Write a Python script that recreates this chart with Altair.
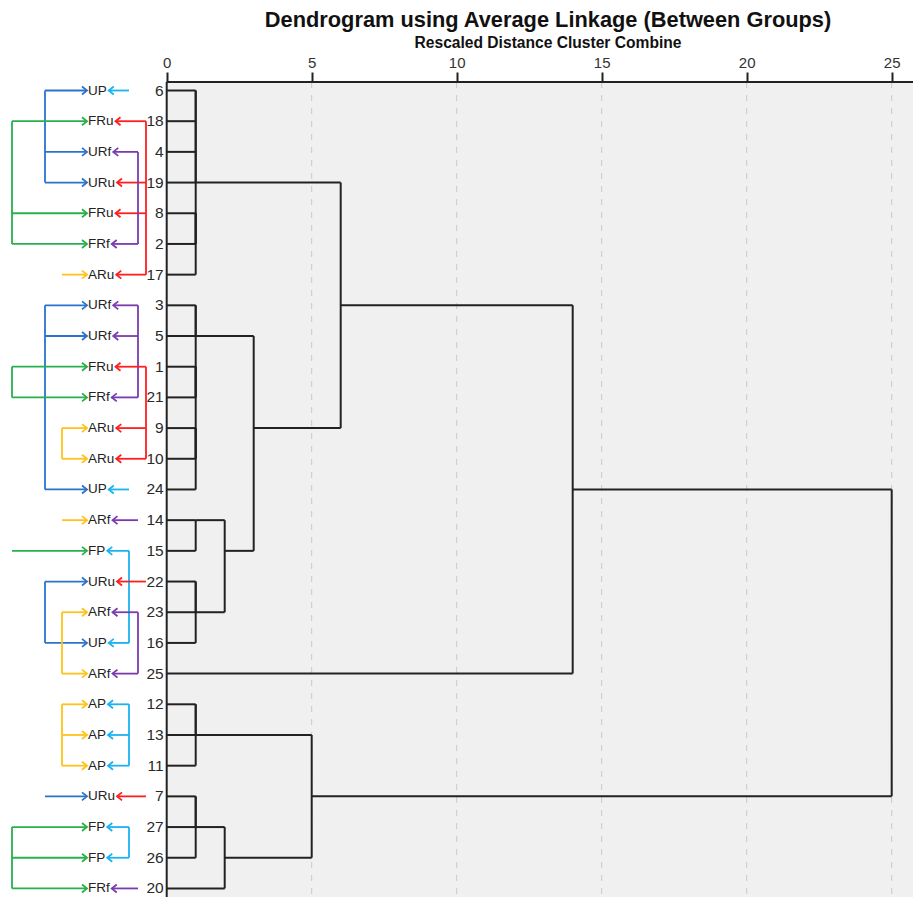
import altair as alt
import pandas as pd

# ---------------- data ----------------
TITLE = "Dendrogram using Average Linkage (Between Groups)"
AXIS_TITLE = "Rescaled Distance Cluster Combine"
TICK_VALUES = [0, 5, 10, 15, 20, 25]
GRID_VALUES = [5, 10, 15, 20, 25]

# case numbers, top to bottom
leaf_order = [6, 18, 4, 19, 8, 2, 17, 3, 5, 1, 21, 9, 10, 24, 14, 15, 22, 23, 16, 25,
              12, 13, 11, 7, 27, 26, 20]

# agglomeration schedule: ints = cases, "#k" = cluster formed at step k
merge_left = [6, 4, 8, "#2", "#0", "#4", 3, 1, 9, "#8", "#7", "#6", 14, 22, "#13",
              "#12", "#11", "#5", "#17", 12, "#19", 7, "#21", "#22", "#20", "#18"]
merge_right = [18, 19, 2, 17, "#1", "#3", 5, 21, 10, 24, "#9", "#10", 15, 23, 16,
               "#14", "#15", "#16", 25, 13, 11, 27, 26, 20, "#23", "#24"]
merge_dist = [1, 1, 1, 1, 1, 1, 1, 1, 1, 1, 1, 1, 1, 1, 1,
              2, 3, 6, 14, 1, 1, 1, 1, 2, 5, 25]

# annotation shown left of each case (same order as leaf_order)
annot_labels = ["UP", "FRu", "URf", "URu", "FRu", "FRf", "ARu", "URf", "URf", "FRu",
                "FRf", "ARu", "ARu", "UP", "ARf", "FP", "URu", "ARf", "UP", "ARf",
                "AP", "AP", "AP", "URu", "FP", "FP", "FRf"]
# rows joined by a bracket on the left (source) and right (target) side
left_groups = [[0, 2, 3], [1, 4, 5], [6], [7, 8, 13], [9, 10], [11, 12], [14], [15],
               [16, 18], [17, 19], [20, 21, 22], [23], [24, 25, 26]]
right_groups = [[0], [1, 3, 4, 6], [2, 5], [7, 8, 10], [9, 11, 12], [13], [14],
                [15, 18], [16], [17, 19], [20, 21, 22], [23], [24, 25], [26]]

# ---------------- layout / style ----------------
FONT = "Liberation Sans"
PAGE_X0 = 166.7        # page x of distance 0
PX_PER_UNIT = 29.0
VIEW_LEFT = 8
VIEW_TOP = 82
VIEW_W = 905
VIEW_H = 815
ROW_PX = 30.69
FIRST_ROW_GAP = 8.5

XMIN = (VIEW_LEFT - PAGE_X0) / PX_PER_UNIT
XMAX = XMIN + VIEW_W / PX_PER_UNIT
YMIN = -FIRST_ROW_GAP / ROW_PX
YMAX = YMIN + VIEW_H / ROW_PX


def px(p):
    return (p - PAGE_X0) / PX_PER_UNIT


SOURCE_COLOR = {"U": "#2b74cc", "F": "#27b04e", "A": "#ffc21a"}
TARGET_COLOR = {"P": "#1ab3f0", "Ru": "#ff1f1f", "Rf": "#7b3bb0"}
LEFT_LANE = {"U": 45, "F": 12, "A": 62}
RIGHT_LANE = {"P": 129, "Rf": 138, "Ru": 146}
TEXT_X = 88
ANN_SIZE = 13.5
CHAR_W = {"U": .722, "P": .667, "F": .611, "R": .722, "u": .556, "f": .278, "A": .667}


def text_w(s):
    return sum(CHAR_W.get(c, .6) for c in s) * ANN_SIZE


# ---------------- dendrogram geometry ----------------
row_of = {leaf: i for i, leaf in enumerate(leaf_order)}
attach = {}
segs = []


def info(ref):
    if isinstance(ref, int):
        return row_of[ref], 0.0
    k = int(ref[1:])
    return attach[k], merge_dist[k]


for k, (a, b, d) in enumerate(zip(merge_left, merge_right, merge_dist)):
    ra, da = info(a)
    rb, db = info(b)
    segs.append((da, d, ra, ra))
    segs.append((db, d, rb, rb))
    segs.append((d, d, ra, rb))
    attach[k] = (ra + rb) // 2

seg_df = pd.DataFrame(segs, columns=["x", "x2", "y", "y2"])
leaf_df = pd.DataFrame({"leaf": [str(v) for v in leaf_order], "row": range(len(leaf_order))})

# ---------------- annotation geometry ----------------
ann_rules, heads_r, heads_l = [], [], []
for grp in left_groups:
    key = annot_labels[grp[0]][0]
    col, lane = SOURCE_COLOR[key], px(LEFT_LANE[key])
    if len(grp) > 1:
        ann_rules.append((lane, lane, min(grp), max(grp), col))
    for r in grp:
        tip = px(TEXT_X - 1)
        ann_rules.append((lane, tip, r, r, col))
        heads_r.append((tip, r, col))
for grp in right_groups:
    key = annot_labels[grp[0]][1:]
    col, lane = TARGET_COLOR[key], px(RIGHT_LANE[key])
    if len(grp) > 1:
        ann_rules.append((lane, lane, min(grp), max(grp), col))
    for r in grp:
        tip = px(TEXT_X + text_w(annot_labels[r]) + 2)
        ann_rules.append((lane, tip, r, r, col))
        heads_l.append((tip, r, col))

ann_rule_df = pd.DataFrame(ann_rules, columns=["x", "x2", "y", "y2", "c"])
head_r_df = pd.DataFrame(heads_r, columns=["x", "y", "c"])
head_l_df = pd.DataFrame(heads_l, columns=["x", "y", "c"])
ann_text_df = pd.DataFrame({"t": annot_labels, "row": range(len(annot_labels)),
                            "x": px(TEXT_X)})

# ---------------- chart ----------------
XS = alt.Scale(domain=[XMIN, XMAX], nice=False, zero=False)
YS = alt.Scale(domain=[YMIN, YMAX], nice=False, zero=False, reverse=True)
XAXIS = alt.Axis(orient="top", values=TICK_VALUES, domain=False, grid=False, ticks=True,
                 tickSize=10, tickWidth=2, tickColor="#222222", labelFontSize=15,
                 labelColor="#333333", labelFont=FONT, labelPadding=2, title=None,
                 labelFlush=False, labelOverlap=False)


def X(f):
    return alt.X(f"{f}:Q", scale=XS, axis=XAXIS)


def Y(f):
    return alt.Y(f"{f}:Q", scale=YS, axis=None)


bg = alt.Chart(pd.DataFrame({"x0": [0.0], "x1": [XMAX], "y0": [YMIN], "y1": [YMAX]})).mark_rect(
    color="#f0f0f0").encode(x=X("x0"), x2="x1", y=Y("y0"), y2="y1")

grid = alt.Chart(pd.DataFrame({"t": GRID_VALUES})).mark_rule(
    color="#c9c9c9", strokeDash=[6, 7], strokeWidth=1).encode(
    x=X("t"), y=alt.value(0), y2=alt.value(VIEW_H))

dendro = alt.Chart(seg_df).mark_rule(color="#222222", strokeWidth=2).encode(
    x=X("x"), x2="x2", y=Y("y"), y2="y2")

frame = alt.Chart(pd.DataFrame({"x": [0.0, 0.0], "x2": [XMAX, 0.0],
                                "y": [YMIN, YMIN], "y2": [YMIN, YMAX]})).mark_rule(
    color="#222222", strokeWidth=2).encode(x=X("x"), x2="x2", y=Y("y"), y2="y2")

leaf_text = alt.Chart(leaf_df).mark_text(
    align="right", baseline="middle", dx=-3, fontSize=15.5, font=FONT, color="#2a2a2a").encode(
    x=alt.value(PAGE_X0 - VIEW_LEFT), y=Y("row"), text="leaf:N")

ann_lines = alt.Chart(ann_rule_df).mark_rule(strokeWidth=1.8).encode(
    x=X("x"), x2="x2", y=Y("y"), y2="y2", color=alt.Color("c:N", scale=None))

head_right = alt.Chart(head_r_df).mark_point(
    shape="M-1,-0.8L0,0L-1,0.8", filled=False, size=100, strokeWidth=1.8, opacity=1).encode(
    x=X("x"), y=Y("y"), color=alt.Color("c:N", scale=None))

head_left = alt.Chart(head_l_df).mark_point(
    shape="M1,-0.8L0,0L1,0.8", filled=False, size=100, strokeWidth=1.8, opacity=1).encode(
    x=X("x"), y=Y("y"), color=alt.Color("c:N", scale=None))

ann_text = alt.Chart(ann_text_df).mark_text(
    align="left", baseline="middle", fontSize=ANN_SIZE, font=FONT, color="#222222").encode(
    x=X("x"), y=Y("row"), text="t:N")

title_text = alt.Chart(pd.DataFrame({"t": [TITLE]})).mark_text(
    align="center", baseline="middle", fontSize=21.8, fontWeight="bold", font=FONT,
    color="#111111").encode(x=alt.value(548 - VIEW_LEFT), y=alt.value(20 - VIEW_TOP), text="t:N")

sub_text = alt.Chart(pd.DataFrame({"t": [AXIS_TITLE]})).mark_text(
    align="center", baseline="middle", fontSize=15.6, fontWeight="bold", font=FONT,
    color="#111111").encode(x=alt.value(548 - VIEW_LEFT), y=alt.value(43 - VIEW_TOP), text="t:N")

chart = alt.layer(
    bg, grid, dendro, frame, leaf_text, ann_lines, head_right, head_left, ann_text,
    title_text, sub_text
).properties(
    width=VIEW_W, height=VIEW_H,
    autosize=alt.AutoSizeParams(type="none"),
    padding={"left": 0, "top": VIEW_TOP - 8, "right": 0, "bottom": 0},
    background="white",
).configure_view(stroke=None)

chart.save("out.html", embed_options={"renderer": "svg", "actions": False})
